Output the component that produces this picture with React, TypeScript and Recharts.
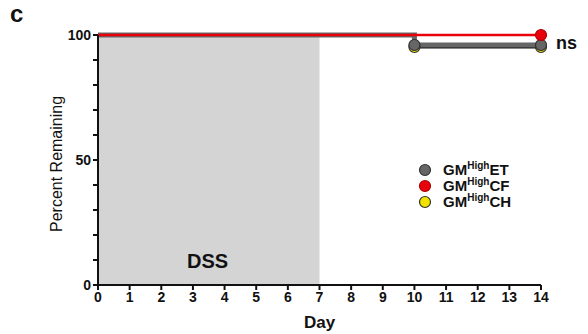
import React from "react";
import {LineChart, Line, XAxis, YAxis, ReferenceArea} from "recharts";

// survival curves, one point per event day (null = no event for that group)
const days = [0, 10, 14];
const etValues = [100, 96, 96];
const cfValues = [100, null, 100];
const chValues = [100, 95.2, 95.2];
const dssStart = 0;
const dssEnd = 7;
const xTicks = [0, 1, 2, 3, 4, 5, 6, 7, 8, 9, 10, 11, 12, 13, 14];
const yTicks = [0, 10, 20, 30, 40, 50, 60, 70, 80, 90, 100];
const yLabels = [0, 50, 100];

const data = days.map((d, i) => ({day: d, et: etValues[i], cf: cfValues[i], ch: chValues[i]}));

const font = "'Liberation Sans', Arial, sans-serif";

const series = [
    {key: "ch", name: "CH", line: "#111111", fill: "#f2e200", stroke: "#333333", width: 3},
    {key: "et", name: "ET", line: "#666666", fill: "#666666", stroke: "#333333", width: 5},
    {key: "cf", name: "CF", line: "#e8000b", fill: "#e8000b", stroke: "#b00000", width: 2.5},
];
const legendOrder = ["et", "cf", "ch"];

// markers only at events / end of follow-up, not at day 0
const makeDot = (fill: string, stroke: string) => (props: any) => {
    const {cx, cy, payload, index, value} = props;
    if (payload.day === 0 || value == null) return <g key={index}/>;
    return <circle key={index} cx={cx} cy={cy} r={5.5} fill={fill} stroke={stroke} strokeWidth={1.2}/>;
};

const YTick = (props: any) => {
    const {x, y, payload} = props;
    if (!yLabels.includes(payload.value)) return <g/>;
    return (
        <text x={x} y={y} dy={5} textAnchor="end" fontFamily={font} fontWeight="bold" fontSize={14} fill="#111">
            {payload.value}
        </text>
    );
};

const Legend = () => (
    <div style={{position: "absolute", left: 418, top: 162, fontFamily: font, fontWeight: "bold", fontSize: 15, color: "#111"}}>
        {legendOrder.map(k => {
            const s = series.find(v => v.key === k)!;
            return (
                <div key={k} style={{display: "flex", alignItems: "center", height: 16}}>
                    <svg width={16} height={14} style={{marginRight: 9}}>
                        <circle cx={7} cy={7} r={5.5} fill={s.fill} stroke={s.stroke} strokeWidth={1.2}/>
                    </svg>
                    <span style={{lineHeight: "16px"}}>GM<sup style={{fontSize: 10, verticalAlign: 6, lineHeight: 0}}>High</sup>{s.name}</span>
                </div>
            );
        })}
    </div>
);

export default function App() {
    return (
        <div style={{position: "absolute", left: 0, top: 0, width: 588, height: 334, background: "#fff"}}>
            <LineChart width={588} height={334} data={data} margin={{top: 35, right: 47, left: 0, bottom: 0}}>
                <ReferenceArea x1={dssStart} x2={dssEnd} y1={0} y2={100} fill="#d4d4d4" fillOpacity={1} stroke="none"/>
                <XAxis dataKey="day" type="number" domain={[0, 14]} ticks={xTicks} interval={0} height={49}
                       axisLine={{stroke: "#111", strokeWidth: 2}} tickLine={{stroke: "#111", strokeWidth: 2}} tickSize={5}
                       tick={{fontFamily: font, fontWeight: "bold", fontSize: 14, fill: "#111"}}
                       label={{value: "Day", position: "insideBottom", offset: 0, dy: -6, fontFamily: font, fontWeight: "bold", fontSize: 17, fill: "#111"}}/>
                <YAxis type="number" domain={[0, 100]} ticks={yTicks} interval={0} width={98}
                       axisLine={{stroke: "#111", strokeWidth: 2}} tickLine={{stroke: "#111", strokeWidth: 2}} tickSize={5}
                       tick={<YTick/>}
                       label={{value: "Percent Remaining", angle: -90, position: "insideLeft", offset: 56, dy: 72, fontFamily: font, fontSize: 16, fill: "#111"}}/>
                {series.map(s => (
                    <Line key={s.key} dataKey={s.key} type="stepAfter" stroke={s.line} strokeWidth={s.width} connectNulls
                          dot={makeDot(s.fill, s.stroke)} activeDot={false} isAnimationActive={false}/>
                ))}
            </LineChart>
            <div style={{position: "absolute", left: 10, top: 0, fontFamily: font, fontWeight: "bold", fontSize: 24, color: "#111"}}>c</div>
            <div style={{position: "absolute", left: 556, top: 33, fontFamily: font, fontWeight: "bold", fontSize: 18, color: "#111"}}>ns</div>
            <div style={{position: "absolute", left: 187, top: 250, fontFamily: font, fontWeight: "bold", fontSize: 20, color: "#111"}}>DSS</div>
            <Legend/>
        </div>
    );
}
